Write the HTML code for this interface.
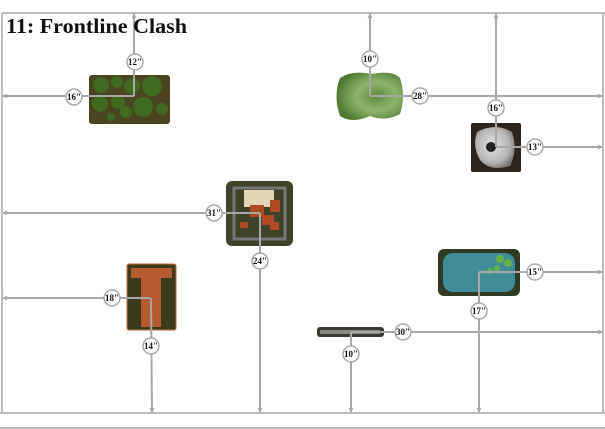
<!DOCTYPE html>
<html><head><meta charset="utf-8"><style>
html,body{margin:0;padding:0;background:#fff;}
svg{display:block;}
text{font-family:"Liberation Serif",serif;font-weight:bold;}
</style></head><body>
<svg width="605" height="429" viewBox="0 0 605 429" xmlns="http://www.w3.org/2000/svg">
<defs>
<marker id="a" viewBox="0 0 6 6" refX="5" refY="3" markerWidth="2.5" markerHeight="2.5" orient="auto-start-reverse">
<path d="M0,0 L6,3 L0,6 z" fill="#a8a8a8"/></marker>
<radialGradient id="hill" cx="0.6" cy="0.5" r="0.6"><stop offset="0" stop-color="#5d8a3a"/><stop offset="0.5" stop-color="#8fb56e"/><stop offset="1" stop-color="#4f7a32"/></radialGradient>
<radialGradient id="rock" cx="0.45" cy="0.45" r="0.6"><stop offset="0" stop-color="#e6e6e6"/><stop offset="0.7" stop-color="#b5b5b5"/><stop offset="1" stop-color="#777"/></radialGradient>
</defs>
<rect x="0" y="0" width="605" height="429" fill="#fff"/>
<g stroke="#bdbdbd" stroke-width="2" fill="none">
<line x1="2" y1="13" x2="605" y2="13"/>
<line x1="2" y1="13" x2="2" y2="413"/>
<line x1="603" y1="13" x2="603" y2="413"/>
<line x1="0" y1="413" x2="605" y2="413"/>
<line x1="0" y1="428" x2="605" y2="428"/>
</g>

<rect x="89" y="75" width="81" height="49" rx="3" fill="#4a4420"/>
<g fill="#3f6a20">
<circle cx="101" cy="85" r="8"/><circle cx="117" cy="82" r="6"/><circle cx="132" cy="86" r="8"/><circle cx="152" cy="86" r="10"/>
<circle cx="100" cy="104" r="8"/><circle cx="118" cy="102" r="7"/><circle cx="143" cy="107" r="10"/><circle cx="162" cy="109" r="6"/><circle cx="111" cy="117" r="4"/><circle cx="126" cy="112" r="6"/>
</g>
<path d="M340,78 Q352,70 372,74 Q392,70 400,78 Q406,96 400,114 Q385,122 370,116 Q352,124 340,116 Q333,96 340,78z" fill="url(#hill)"/>
<rect x="471" y="123" width="50" height="49" rx="2" fill="#2e241b"/>
<path d="M477,132 Q495,122 512,132 Q518,150 510,166 Q490,172 480,160 Q472,146 477,132z" fill="url(#rock)"/>
<circle cx="491" cy="147" r="5" fill="#222"/>
<rect x="226" y="181" width="67" height="65" rx="6" fill="#3d4229"/>
<rect x="234" y="188" width="51" height="51" fill="none" stroke="#777" stroke-width="3"/>
<rect x="244" y="190" width="30" height="17" fill="#e2d6b6"/>
<g fill="#b04a25"><rect x="250" y="205" width="14" height="12"/><rect x="270" y="200" width="10" height="12"/><rect x="262" y="215" width="12" height="10"/><rect x="240" y="222" width="8" height="6"/><rect x="270" y="222" width="9" height="8"/></g>
<rect x="127" y="264" width="49" height="66" rx="2" fill="#3b3a1c" stroke="#c86e3a" stroke-width="1"/>
<rect x="131" y="268" width="41" height="10" fill="#b65a30"/>
<rect x="141" y="278" width="20" height="49" fill="#b65a30"/>
<rect x="438" y="249" width="82" height="47" rx="6" fill="#2f3a25"/>
<rect x="443" y="253" width="72" height="39" rx="10" fill="#3f8d99"/>
<g fill="#6ab04a"><circle cx="500" cy="259" r="4"/><circle cx="508" cy="263" r="4"/><circle cx="497" cy="268" r="3"/><circle cx="490" cy="271" r="3"/></g>
<rect x="317" y="327" width="67" height="10" rx="3" fill="#3a3a30"/>
<rect x="320" y="330" width="60" height="4" fill="#8a8a80"/>

<g stroke="#a8a8a8" stroke-width="2" fill="none">
<line x1="134" y1="96" x2="134" y2="14" marker-end="url(#a)"/>
<line x1="134" y1="96" x2="3" y2="96" marker-end="url(#a)"/>
<line x1="370" y1="96" x2="370" y2="14" marker-end="url(#a)"/>
<line x1="370" y1="96" x2="602" y2="96" marker-end="url(#a)"/>
<line x1="496" y1="147" x2="496" y2="14" marker-end="url(#a)"/>
<line x1="496" y1="147" x2="602" y2="147" marker-end="url(#a)"/>
<line x1="260" y1="213" x2="3" y2="213" marker-end="url(#a)"/>
<line x1="260" y1="213" x2="260" y2="412" marker-end="url(#a)"/>
<line x1="150" y1="298" x2="3" y2="298" marker-end="url(#a)"/>
<line x1="151" y1="298" x2="152" y2="412" marker-end="url(#a)"/>
<line x1="479" y1="272" x2="602" y2="272" marker-end="url(#a)"/>
<line x1="479" y1="272" x2="479" y2="412" marker-end="url(#a)"/>
<line x1="351" y1="332" x2="602" y2="332" marker-end="url(#a)"/>
<line x1="351" y1="332" x2="351" y2="412" marker-end="url(#a)"/>
</g>
<text x="6" y="33" font-size="21" fill="#111" textLength="181" lengthAdjust="spacingAndGlyphs">11: Frontline Clash</text>

<g font-size="9" fill="#111" text-anchor="middle">
<g stroke="#a8a8a8" stroke-width="1.5" fill="#fff">
<circle cx="135" cy="62" r="8"/><circle cx="74" cy="97" r="8"/>
<circle cx="370" cy="59" r="8"/><circle cx="420" cy="96" r="8"/>
<circle cx="496" cy="108" r="8"/><circle cx="535" cy="147" r="8"/>
<circle cx="214" cy="213" r="8"/><circle cx="260" cy="261" r="8"/>
<circle cx="112" cy="298" r="8"/><circle cx="151" cy="346" r="8"/>
<circle cx="535" cy="272" r="8"/><circle cx="479" cy="311" r="8"/>
<circle cx="403" cy="332" r="8"/><circle cx="351" cy="354" r="8"/>
</g>
<text x="135" y="65">12"</text><text x="74" y="100">16"</text>
<text x="370" y="62">10"</text><text x="420" y="99">28"</text>
<text x="496" y="111">16"</text><text x="535" y="150">13"</text>
<text x="214" y="216">31"</text><text x="260" y="264">24"</text>
<text x="112" y="301">18"</text><text x="151" y="349">14"</text>
<text x="535" y="275">15"</text><text x="479" y="314">17"</text>
<text x="403" y="335">30"</text><text x="351" y="357">10"</text>
</g>
</svg>
</body></html>
